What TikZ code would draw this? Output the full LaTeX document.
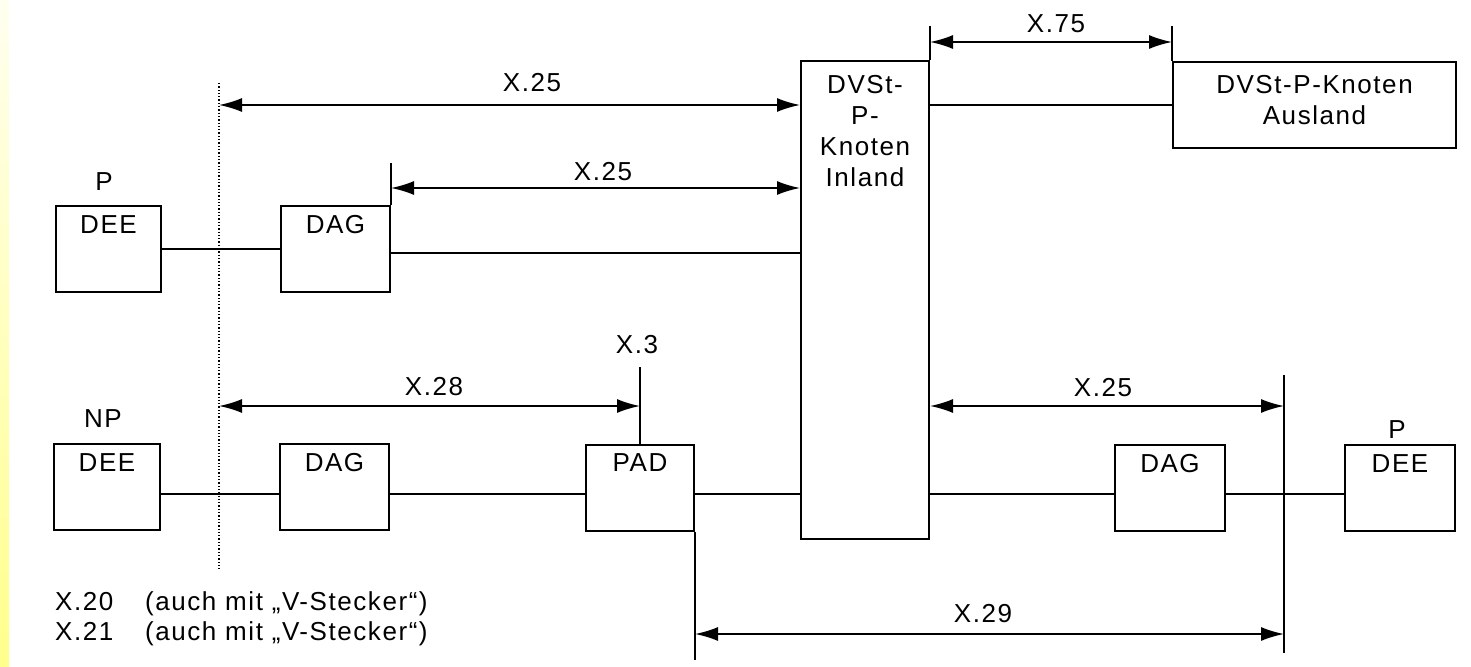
\documentclass[tikz,border=0pt]{standalone}
\usepackage{fontspec}
\setmainfont{Liberation Sans}[LetterSpace=6]
\usetikzlibrary{arrows.meta}
\newcommand{\pNetFont}{\fontsize{26}{31}\selectfont}

\begin{document}
\begin{tikzpicture}[x=1pt,y=-1pt,
  box/.style={draw, line width=2pt, inner sep=0pt, anchor=north west},
  wire/.style={line width=1.7pt},
  dim/.style={wire, {Latex[length=23pt,width=14pt]}-{Latex[length=23pt,width=14pt]}},
  cut/.style={dotted, line width=1.3pt},
  txt/.style={anchor=base, inner sep=0pt, font=\pNetFont},
  intxt/.style={anchor=north, inner sep=0pt, align=center, font=\pNetFont}]
\useasboundingbox (0,0) rectangle (1471,666);
\fill[white] (0,0) rectangle (1471,666);
\fill[top color=yellow!6, bottom color=yellow!45] (0,0) rectangle (9,666);
\node[box, minimum width=105pt, minimum height=86pt, label={[intxt, yshift=-10pt]north:DEE}] (deeP) at (55,205) {};
\node[box, minimum width=109pt, minimum height=86pt, label={[intxt, yshift=-10pt]north:DAG}] (dagA) at (280,205) {};
\node[box, minimum width=128pt, minimum height=478pt, label={[intxt, yshift=-15pt]north:DVSt-\\P-\\Knoten\\Inland}] (dvst) at (800,60) {};
\node[box, minimum width=283pt, minimum height=86pt, label={[intxt, yshift=-14pt]north:DVSt-P-Knoten\\Ausland}] (ausl) at (1172,61) {};
\node[box, minimum width=106pt, minimum height=86pt, label={[intxt, yshift=-10pt]north:DEE}] (deeNP) at (53,443) {};
\node[box, minimum width=109pt, minimum height=86pt, label={[intxt, yshift=-10pt]north:DAG}] (dagB) at (279,443) {};
\node[box, minimum width=108pt, minimum height=86pt, label={[intxt, yshift=-9pt]north:PAD}] (pad) at (585,444) {};
\node[box, minimum width=110pt, minimum height=86pt, label={[intxt, yshift=-10pt]north:DAG}] (dagC) at (1114,444) {};
\node[box, minimum width=110pt, minimum height=86pt, label={[intxt, yshift=-10pt]north:DEE}] (deePr) at (1344,444) {};
\node[txt] (pLeft) at (104,190) {P};
\node[txt] (npLeft) at (103,427) {NP};
\node[txt] (pRight) at (1397,438) {P};
\coordinate (cutT) at (219,83);
\coordinate (cutB) at (219,570);
\coordinate (bus) at (0,494);
\coordinate (edgeT) at (1284,375);
\coordinate (edgeB) at (1284,653);
\coordinate (busA) at ([yshift=-4pt]dagA.east);
\coordinate (tickA) at ([yshift=42pt]dagA.north east);
\coordinate (arrA) at ([yshift=17pt]dagA.north east);
\coordinate (tickD) at ([yshift=34pt]dvst.north east);
\coordinate (tickE) at ([yshift=35pt]ausl.north west);
\coordinate (arrE) at ([yshift=18pt]dvst.north east);
\coordinate (tickP) at ([yshift=77pt]pad.north);
\coordinate (arrP) at ([yshift=38pt]pad.north);
\coordinate (padLow) at ([yshift=-128pt]pad.south east);
\coordinate (arrQ) at ([yshift=-102pt]pad.south east);
\draw[cut] (cutT) -- (cutB);
\draw[wire] (deeP) -- (dagA);
\draw[wire] (busA) -- (busA -| dvst.west);
\draw[wire] (ausl.west -| dvst.east) -- (ausl.west);
\draw[wire] (dagA.north east) -- (tickA);
\draw[wire] (dvst.north east) -- (tickD);
\draw[wire] (ausl.north west) -- (tickE);
\draw[wire] (pad.north) -- (tickP);
\draw[wire] (pad.south east) -- (padLow);
\draw[wire] (edgeT) -- (edgeB);
\draw[wire] (deeNP.east |- bus) -- (dagB.west |- bus);
\draw[wire] (dagB.east |- bus) -- (pad.west |- bus);
\draw[wire] (pad.east |- bus) -- (dvst.west |- bus);
\draw[wire] (dvst.east |- bus) -- (dagC.west |- bus);
\draw[wire] (dagC.east |- bus) -- (deePr.west |- bus);
\draw[dim] (cutT |- ausl.west) -- (dvst.west |- ausl.west);
\draw[dim] (arrA) -- (arrA -| dvst.west);
\draw[dim] (arrE) -- (arrE -| ausl.west);
\draw[dim] (arrP -| cutT) -- (arrP);
\draw[dim] (arrP -| dvst.east) -- (arrP -| edgeT);
\draw[dim] (arrQ) -- (arrQ -| edgeT);
\node[txt] (lblTop) at (532,92) {X.25};
\node[txt] (lblDag) at (603,180) {X.25};
\node[txt] (lblAus) at (1056,33) {X.75};
\node[txt] (lblPad) at (637,353) {X.3};
\node[txt] (lblNp) at (434,395) {X.28};
\node[txt] (lblDee) at (1103,396) {X.25};
\node[txt] (lblLow) at (983,622) {X.29};
\node[txt, anchor=base west] (noteA) at (55,610) {X.20};
\node[txt, anchor=base west] (noteAt) at (145,610) {(auch mit „V-Stecker“)};
\node[txt, anchor=base west] (noteB) at (55,640) {X.21};
\node[txt, anchor=base west] (noteBt) at (145,640) {(auch mit „V-Stecker“)};
\end{tikzpicture}
\end{document}
